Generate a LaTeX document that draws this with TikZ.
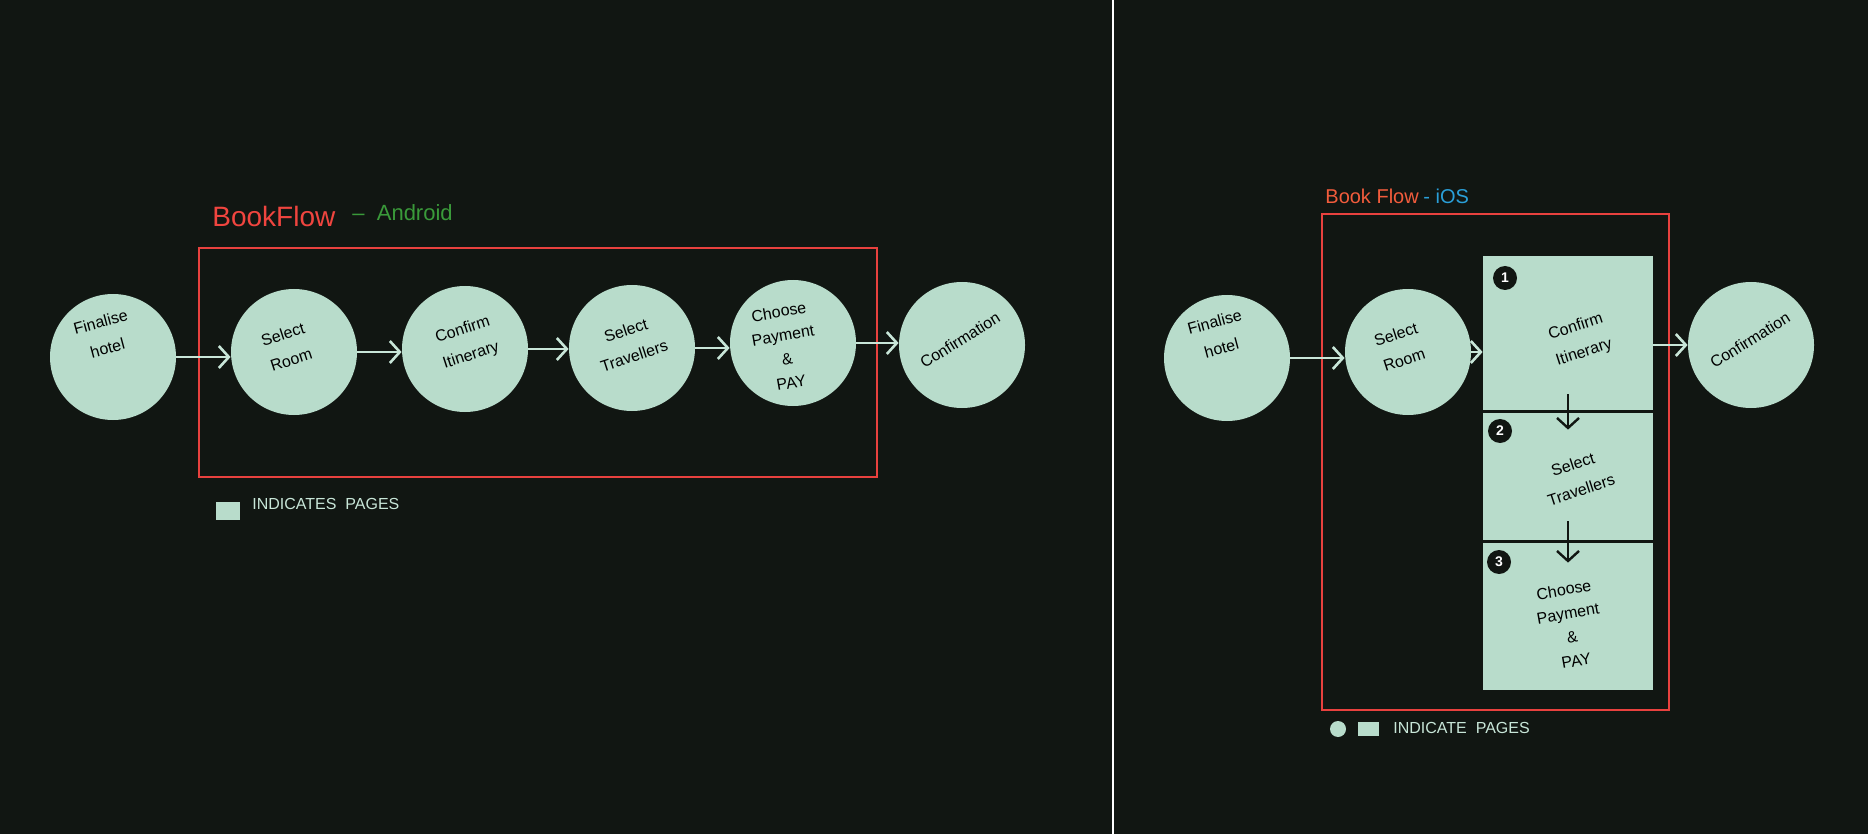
\documentclass[tikz,border=0pt]{standalone}
\usepackage{fontspec}
\setmainfont{Liberation Sans}
\usetikzlibrary{arrows.meta,calc}
\definecolor{bg}{HTML}{111612}
\definecolor{mint}{HTML}{B8DCCB}
\definecolor{arrowc}{HTML}{C8E6D8}
\definecolor{redbox}{HTML}{E8413E}
\definecolor{titlered}{HTML}{F0453F}
\definecolor{titleorange}{HTML}{F25C3C}
\definecolor{andgreen}{HTML}{3A9A3A}
\definecolor{iosblue}{HTML}{2A9FD8}
\tikzset{
  pagecircle/.style={circle, fill=mint, minimum size=63pt, inner sep=0pt},
  pagebox/.style={rectangle, fill=mint, minimum width=85pt, inner sep=0pt},
  lbl/.style={font=\fontsize{8}{13.5}\selectfont, align=center, text=black, inner sep=0pt},
  flow/.style={draw=arrowc, line width=1.3pt, -{Straight Barb[length=5pt,width=11pt,line width=1.3pt]}},
  downflow/.style={draw=bg, line width=1.2pt, -{Straight Barb[length=5pt,width=11pt,line width=1.2pt]}},
  divider/.style={draw=bg, line width=1.3pt},
  frame/.style={draw=redbox, line width=1.4pt},
  badge/.style={circle, fill=bg, text=white, minimum size=12pt, inner sep=0pt, font=\bfseries\fontsize{7}{7}\selectfont},
  legend/.style={text=arrowc, font=\fontsize{8}{8}\selectfont, anchor=west, inner sep=0pt},
}
\begin{document}
\begin{tikzpicture}[x=0.5pt,y=-0.5pt]
\useasboundingbox (0,0) rectangle (1868,834);
\fill[bg] (0,0) rectangle (1868,834);
% central divider
\draw[white, line width=1.2pt] (1113,0) -- (1113,834);

% ===== Android =====
\node[text=titlered, font=\fontsize{14}{14}\selectfont, anchor=west, inner sep=0pt] (atitle) at (212,216) {BookFlow};
\node[text=andgreen, font=\fontsize{11}{11}\selectfont, anchor=west, inner sep=0pt] (asub) at (352,213) {–\ \ Android};
\draw[frame] (199,248) rectangle (877,477);

\node[pagecircle] (a1) at (113,357) {};
\node[pagecircle] (a2) at (294,352) {};
\node[pagecircle] (a3) at (465,349) {};
\node[pagecircle] (a4) at (632,348) {};
\node[pagecircle] (a5) at (793,343) {};
\node[pagecircle] (a6) at (962,345) {};

\node[lbl, rotate=15] (ta1) at (104,335) {Finalise\\hotel};
\node[lbl, rotate=18] (ta2) at (287,347) {Select\\Room};
\node[lbl, rotate=18] (ta3) at (467,343) {Confirm\\Itinerary};
\node[lbl, rotate=18] (ta4) at (630,343) {Select\\Travellers};
\node[lbl, rotate=10, font=\fontsize{8}{12}\selectfont] (ta5) at (785,347) {Choose\\Payment\\\&\\PAY};
\node[lbl, rotate=32] (ta6) at (960,340) {Confirmation};

\draw[flow] (a1.east) -- (a1.east -| a2.west);
\draw[flow] (a2.east) -- (a2.east -| a3.west);
\draw[flow] (a3.east) -- (a3.east -| a4.west);
\draw[flow] (a4.east) -- (a4.east -| a5.west);
\draw[flow] (a5.east) -- (a5.east -| a6.west);

\node[rectangle, fill=mint, minimum width=12pt, minimum height=9pt, inner sep=0pt] (alegbox) at (228,511) {};
\node[legend] (alegtxt) at (252,504) {INDICATES\ \ PAGES};

% ===== iOS =====
\node[text=titleorange, font=\fontsize{10}{10}\selectfont, anchor=west, inner sep=0pt] (ititle) at (1325,196) {Book Flow};
\node[text=iosblue, font=\fontsize{10}{10}\selectfont, anchor=west, inner sep=0pt] (isub) at (1423,196) {- iOS};
\draw[frame] (1322,214) rectangle (1669,710);

\node[pagecircle] (i1) at (1227,358) {};
\node[pagecircle] (i2) at (1408,352) {};
\node[pagecircle] (i4) at (1751,345) {};

\node[pagebox, minimum height=77.5pt] (p1) at (1568,333.5) {};
\node[pagebox, minimum height=65pt] (p2) at (1568,476) {};
\node[pagebox, minimum height=74.5pt] (p3) at (1568,615.5) {};
\draw[divider] (p1.south west) -- (p1.south east);
\draw[divider] (p2.south west) -- (p2.south east);

\node[badge] (b1) at (1505,278) {1};
\node[badge] (b2) at (1500,431) {2};
\node[badge] (b3) at (1499,562) {3};

\node[lbl, rotate=15] (ti1) at (1218,335) {Finalise\\hotel};
\node[lbl, rotate=18] (ti2) at (1400,347) {Select\\Room};
\node[lbl, rotate=18] (tp1) at (1580,340) {Confirm\\Itinerary};
\node[lbl, rotate=18] (tp2) at (1577,477) {Select\\Travellers};
\node[lbl, rotate=10, font=\fontsize{8}{12}\selectfont] (tp3) at (1570,625) {Choose\\Payment\\\&\\PAY};
\node[lbl, rotate=32] (ti4) at (1750,340) {Confirmation};

\draw[flow] (i1.east) -- (i1.east -| i2.west);
\draw[flow] (i2.east) -- (i2.east -| p1.west);
\draw[flow] (i4.west -| p1.east) -- (i4.west);
\draw[downflow] ($(p1.south)+(0,-17)$) -- ($(p2.north)+(0,19)$);
\draw[downflow] ($(p2.south)+(0,-20)$) -- ($(p3.north)+(0,22)$);

\node[circle, fill=mint, minimum size=8pt, inner sep=0pt] (ilegdot) at (1338,729) {};
\node[rectangle, fill=mint, minimum width=10.5pt, minimum height=7pt, inner sep=0pt] (ilegbox) at (1368.5,728.5) {};
\node[legend] (ilegtxt) at (1393,728) {INDICATE\ \ PAGES};
\end{tikzpicture}
\end{document}
